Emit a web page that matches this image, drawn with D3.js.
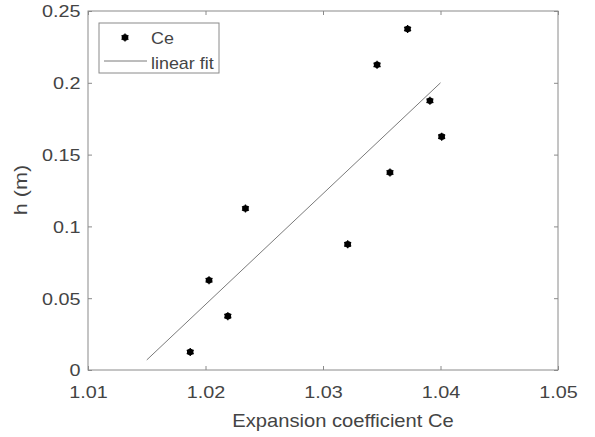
<!DOCTYPE html>
<html>
<head>
<meta charset="utf-8">
<script src="https://cdn.jsdelivr.net/npm/d3@7"></script>
<style>
  html, body { margin: 0; padding: 0; background: #fff; }
  svg { display: block; font-family: "Liberation Sans", Arial, sans-serif; }
</style>
</head>
<body>
<svg id="chart" width="595" height="437"></svg>
<script>
const ceValues = [1.0187, 1.0203, 1.0219, 1.0234, 1.0321, 1.0346, 1.0357, 1.0372, 1.0391, 1.0401];
const hValues  = [0.0125, 0.0625, 0.0375, 0.1125, 0.0875, 0.2125, 0.1375, 0.2375, 0.1875, 0.1625];
const fitX = [1.015, 1.040];
const fitY = [0.007, 0.200];
const xTicks = [1.01, 1.02, 1.03, 1.04, 1.05];
const yTicks = [0, 0.05, 0.1, 0.15, 0.2, 0.25];
const seriesNames = ["Ce", "linear fit"];
const xLabel = "Expansion coefficient Ce";
const yLabel = "h (m)";

const W = 595, H = 437;
const m = { left: 88, right: 37, top: 11, bottom: 67 };
const axisColor = "#8a8a8a", textColor = "#444";
const SX = 1.2; // horizontal widening of the original font

const svg = d3.select("#chart");
const x = d3.scaleLinear().domain([1.01, 1.05]).range([m.left, W - m.right]);
const y = d3.scaleLinear().domain([0, 0.25]).range([H - m.bottom, m.top]);

const fmt = d => d3.format("")(+d.toFixed(3));

function styleAxis(g, showLabels) {
  g.select(".domain").remove();
  g.selectAll(".tick line").attr("stroke", axisColor).attr("stroke-width", 1);
  g.selectAll(".tick text").attr("fill", textColor).attr("font-size", 16.5)
    .style("display", showLabels ? null : "none");
}

// bottom
svg.append("g").attr("transform", `translate(0,${y(0)})`)
  .call(d3.axisBottom(x).tickValues(xTicks).tickFormat(fmt).tickSizeInner(-4).tickSizeOuter(0))
  .call(g => styleAxis(g, true))
  .call(g => g.selectAll(".tick text").attr("y", 28).attr("dy", 0)
    .attr("transform", `scale(${SX},1)`));
// top
svg.append("g").attr("transform", `translate(0,${y(0.25)})`)
  .call(d3.axisTop(x).tickValues(xTicks).tickSizeInner(-4).tickSizeOuter(0))
  .call(g => styleAxis(g, false));
// left
svg.append("g").attr("transform", `translate(${x(1.01)},0)`)
  .call(d3.axisLeft(y).tickValues(yTicks).tickFormat(fmt).tickSizeInner(-4).tickSizeOuter(0))
  .call(g => styleAxis(g, true))
  .call(g => g.selectAll(".tick text").attr("x", -7.5 / SX).attr("dy", "0.36em")
    .attr("transform", `scale(${SX},1)`));
// right
svg.append("g").attr("transform", `translate(${x(1.05)},0)`)
  .call(d3.axisRight(y).tickValues(yTicks).tickSizeInner(-4).tickSizeOuter(0))
  .call(g => styleAxis(g, false));

// box
svg.append("rect")
  .attr("x", x(1.01)).attr("y", y(0.25))
  .attr("width", x(1.05) - x(1.01)).attr("height", y(0) - y(0.25))
  .attr("fill", "none").attr("stroke", axisColor).attr("stroke-width", 1);

// fit line
svg.append("line")
  .attr("x1", x(fitX[0])).attr("y1", y(fitY[0]))
  .attr("x2", x(fitX[1])).attr("y2", y(fitY[1]))
  .attr("stroke", "#7a7a7a").attr("stroke-width", 1);

// points
const pts = ceValues.map((c, i) => ({ c, h: hValues[i] }));
const marker = d3.symbol().type(d3.symbolAsterisk).size(45);
const g = svg.append("g");
g.selectAll("circle").data(pts).join("circle")
  .attr("cx", d => x(d.c)).attr("cy", d => y(d.h)).attr("r", 3.3).attr("fill", "#000");
g.selectAll("path").data(pts).join("path")
  .attr("d", marker)
  .attr("transform", d => `translate(${x(d.c)},${y(d.h)})`)
  .attr("stroke", "#000").attr("stroke-width", 1.3).attr("fill", "none");

// legend
const lg = svg.append("g");
lg.append("rect").attr("x", 99).attr("y", 23).attr("width", 120).attr("height", 50)
  .attr("fill", "#fff").attr("stroke", axisColor).attr("stroke-width", 1);
lg.append("circle").attr("cx", 125).attr("cy", 37.5).attr("r", 3.3).attr("fill", "#000");
lg.append("path").attr("d", marker).attr("transform", "translate(125,37.5)")
  .attr("stroke", "#000").attr("stroke-width", 1.3).attr("fill", "none");
lg.append("line").attr("x1", 104).attr("x2", 147).attr("y1", 61).attr("y2", 61)
  .attr("stroke", "#7a7a7a").attr("stroke-width", 1);
lg.append("text").attr("transform", "translate(151,44) scale(1.12,1)")
  .attr("font-size", 16).attr("fill", textColor).text(seriesNames[0]);
lg.append("text").attr("transform", "translate(151,69) scale(1.12,1)")
  .attr("font-size", 16).attr("fill", textColor).text(seriesNames[1]);

// axis labels
svg.append("text").attr("transform", `translate(343,427) scale(1.12,1)`)
  .attr("text-anchor", "middle").attr("font-size", 18).attr("fill", textColor).text(xLabel);
svg.append("text").attr("transform", `translate(27,190) rotate(-90) scale(1.2,1)`)
  .attr("text-anchor", "middle").attr("font-size", 18).attr("fill", textColor).text(yLabel);
</script>
</body>
</html>
